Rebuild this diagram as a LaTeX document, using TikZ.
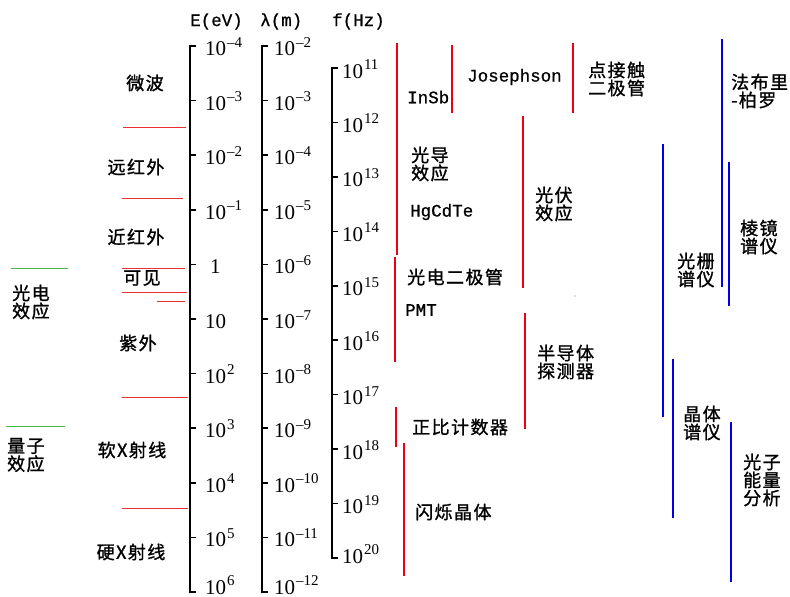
\documentclass[tikz,border=0pt]{standalone}
\usepackage{fontspec}
\newfontfamily\cjk[LetterSpace=8,FakeBold=1.2]{Noto Sans CJK SC}
\newfontfamily\monof[FakeBold=0.8]{Liberation Mono}
\newfontfamily\numf{Liberation Serif}
\newcommand{\tpow}[1]{10\kern0.8pt\raisebox{8.5pt}{\fontsize{15}{15}\selectfont #1}}
\definecolor{rline}{RGB}{232,50,50}
\definecolor{rbar}{RGB}{235,0,20}
\definecolor{bbar}{RGB}{0,0,230}
\definecolor{gline}{RGB}{70,185,70}
\tikzset{
  axisln/.style={line width=1.6pt, black},
  thinred/.style={rline, line width=0.9pt},
  redbar/.style={rbar, line width=2.9pt},
  bluebar/.style={bbar, line width=2.9pt},
  greenln/.style={gline, line width=0.9pt},
  cn/.style={font=\cjk\fontsize{18}{18}\selectfont, inner sep=0pt, align=left},
  lat/.style={font=\monof\fontsize{17.5}{19}\selectfont, inner sep=0pt},
  num/.style={font=\numf\fontsize{21}{21}\selectfont, inner sep=0pt, anchor=base west},
}
\begin{document}
\begin{tikzpicture}[x=1pt,y=-1pt]
\fill[white] (0,0) rectangle (790,597);
\useasboundingbox (0,0) rectangle (790,597);

% headers
\node[lat, anchor=base west] (hE) at (190,26) {E(eV)};
\node[lat, anchor=base west] (hL) at (260,26) {λ(m)};
\node[lat, anchor=base west] (hF) at (332,26) {f(Hz)};

% E axis
\draw[axisln] (196,46) -- (190,46) -- (190,592) -- (196,592);
\foreach \k in {1,...,9} \draw[axisln] (190,{46+54.6*\k}) -- (196,{46+54.6*\k});
\foreach \k/\t in {0/{\tpow{–4}},1/{\tpow{–3}},2/{\tpow{–2}},3/{\tpow{–1}},5/{10},6/{\tpow{2}},7/{\tpow{3}},8/{\tpow{4}},9/{\tpow{5}}}
  \node[num] (e\k) at (205,{46+54.6*\k+9.5}) {\t};
\node[num] (e4) at (210,{46+54.6*4+9.5}) {1};
\node[num] (e10) at (205,594) {\tpow{6}};

% lambda axis
\draw[axisln] (268,46) -- (262,46) -- (262,592) -- (268,592);
\foreach \k in {1,...,9} \draw[axisln] (262,{46+54.6*\k}) -- (268,{46+54.6*\k});
\foreach \k/\t in {0/{–2},1/{–3},2/{–4},3/{–5},4/{–6},5/{–7},6/{–8},7/{–9},8/{–10},9/{–11}}
  \node[num] (l\k) at (274,{46+54.6*\k+9.5}) {\tpow{\t}};
\node[num] (l10) at (274,594) {\tpow{–12}};

% f axis
\draw[axisln] (338,68) -- (332,68) -- (332,558) -- (338,558);
\foreach \k in {1,...,8} \draw[axisln] (332,{68+54.44*\k}) -- (338,{68+54.44*\k});
\foreach \k/\t in {0/11,1/12,2/13,3/14,4/15,5/16,6/17,7/18,8/19}
  \node[num] (f\k) at (342,{68+54.44*\k+10}) {\tpow{\t}};
\node[num] (f9) at (342,563) {\tpow{20}};

% region separators
\draw[thinred] (123,127) -- (186,127);
\draw[thinred] (122,198) -- (183,198);
\draw[thinred] (122,268) -- (185,268);
\draw[thinred] (122,292) -- (187,292);
\draw[thinred] (157,301) -- (185,301);
\draw[thinred] (122,397) -- (188,397);
\draw[thinred] (122,508) -- (188,508);
\draw[greenln] (11,268) -- (68,268);
\draw[greenln] (6,426) -- (65,426);

% region labels
\node[cn] (mw) at (145,83) {微波};
\node[cn] (fir) at (136,167) {远红外};
\node[cn] (nir) at (136,237) {近红外};
\node[cn] (vis) at (142,278) {可见};
\node[cn] (uv) at (138,343) {紫外};
\node[cn] (sx) at (132,450) {软X射线};
\node[cn] (hx) at (131,552) {硬X射线};
\node[cn, anchor=west] (pe) at (12,302) {光电\\效应};
\node[cn, anchor=west] (qe) at (7,455) {量子\\效应};

% red detector bars
\draw[redbar] (397,43) -- (397,255);
\draw[redbar] (452,45) -- (452,113);
\draw[redbar] (573,43) -- (573,113);
\draw[redbar] (523,116) -- (523,288);
\draw[redbar] (395,257) -- (395,362);
\draw[redbar] (525,313) -- (525,429);
\draw[redbar] (396,407) -- (396,447);
\draw[redbar] (404,443) -- (404,576);

\node[lat, anchor=west] (insb) at (407,97) {InSb};
\node[lat, anchor=west] (jos) at (467,77) {Josephson};
\node[cn, anchor=west] (pcd) at (588,79) {点接触\\二极管};
\node[cn, anchor=west] (pc) at (411,164) {光导\\效应};
\node[lat, anchor=west] (hg) at (410,212) {HgCdTe};
\node[cn, anchor=west] (pv) at (535,204) {光伏\\效应};
\node[cn, anchor=west] (pd) at (407,277) {光电二极管};
\node[lat, anchor=west] (pmt) at (405,310) {PMT};
\node[cn, anchor=west] (sd) at (537,362) {半导体\\探测器};
\node[cn, anchor=west] (pcn) at (412,427) {正比计数器};
\node[cn, anchor=west] (sc) at (415,512) {闪烁晶体};
\fill[gray] (575,296) circle (0.7);

% blue spectrometer bars
\draw[bluebar] (663,144) -- (663,417);
\draw[bluebar] (722,39) -- (722,287);
\draw[bluebar] (729,162) -- (729,306);
\draw[bluebar] (673,359) -- (673,518);
\draw[bluebar] (731,422) -- (731,582);

\node[cn, anchor=west] (fp) at (731,91) {法布里\\-柏罗};
\node[cn, anchor=west] (pr) at (740,237) {棱镜\\谱仪};
\node[cn, anchor=west] (gr) at (677,270) {光栅\\谱仪};
\node[cn, anchor=west] (cr) at (683,423) {晶体\\谱仪};
\node[cn, anchor=west] (ph) at (743,480) {光子\\能量\\分析};
\end{tikzpicture}
\end{document}
